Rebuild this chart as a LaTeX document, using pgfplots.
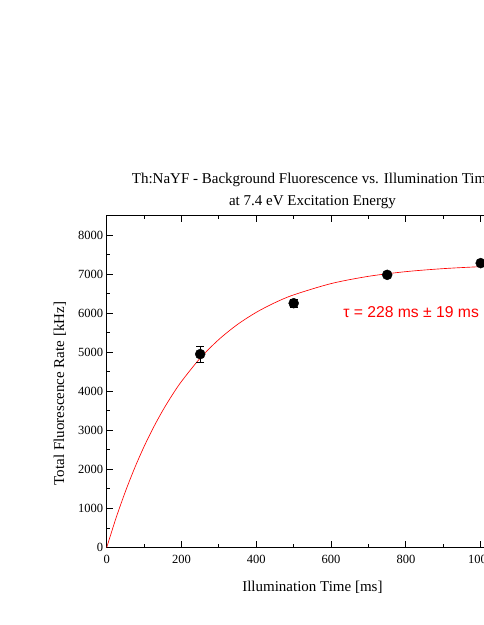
\documentclass[border=0pt]{standalone}
\usepackage{fontspec}
\setmainfont{Liberation Serif}
\newfontfamily\arial{Liberation Sans}
\usepackage{pgfplots}
\pgfplotsset{compat=1.18}
\begin{document}
\begin{tikzpicture}[x=1pt,y=1pt]
\useasboundingbox (0,0) rectangle (483,625);
\node[anchor=base, font=\fontsize{15}{18}\selectfont] at (312.4,441) {Th:NaYF - Background Fluorescence vs. Illumination Time};
\node[anchor=base, font=\fontsize{15}{18}\selectfont] at (312.4,419) {at 7.4 eV Excitation Energy};
\begin{axis}[
  at={(106.7pt,77.5pt)}, anchor=south west,
  scale only axis, width=411.4pt, height=331.8pt,
  xmin=0, xmax=1100, ymin=0, ymax=8500,
  xtick={0,200,...,1000}, ytick={0,1000,...,8000},
  minor tick num=1,
  tick align=inside,
  major tick length=6pt, minor tick length=3.5pt,
  every tick/.style={black, line width=0.9pt},
  axis line style={line width=1.2pt},
  /pgf/number format/assume math mode=true,
  /pgf/number format/set thousands separator={},
  tick label style={font=\fontsize{12.5}{14}\selectfont},
  xticklabel style={yshift=-4pt},
  xlabel={Illumination Time [ms]},
  ylabel={Total Fluorescence Rate [kHz]},
  label style={font=\fontsize{15}{18}\selectfont},
  xlabel style={at={(axis description cs:0.5,-0.1185)}, anchor=center},
  ylabel style={at={(axis description cs:-0.1135,0.464)}, anchor=center},
  clip=true,
]
\addplot[red, line width=0.65pt, smooth] coordinates {
(0,0) (25,756) (50,1434) (75,2042) (100,2587) (125,3074) (150,3512) (175,3903)
(200,4255) (250,4851) (300,5330) (350,5716) (400,6025) (450,6273) (500,6472)
(600,6761) (700,6947) (800,7067) (900,7144) (1000,7194) (1100,7226)
};
\addplot[only marks, mark=*, mark size=5pt, black,
  error bars/.cd, y dir=both, y explicit,
  error bar style={black, line width=0.6pt},
  error mark options={rotate=90, mark size=4pt, black, line width=0.6pt}]
  table[x=x, y=y, y error=e] {
x y e
250 4954 213
500 6258 100
750 6985 40
1000 7285 60
};
\node[anchor=west, text=red, font=\arial\fontsize{15.7}{18}\selectfont, inner sep=0pt] at (axis cs:632,6040) {τ = 228 ms ± 19 ms};
\end{axis}
\end{tikzpicture}
\end{document}
